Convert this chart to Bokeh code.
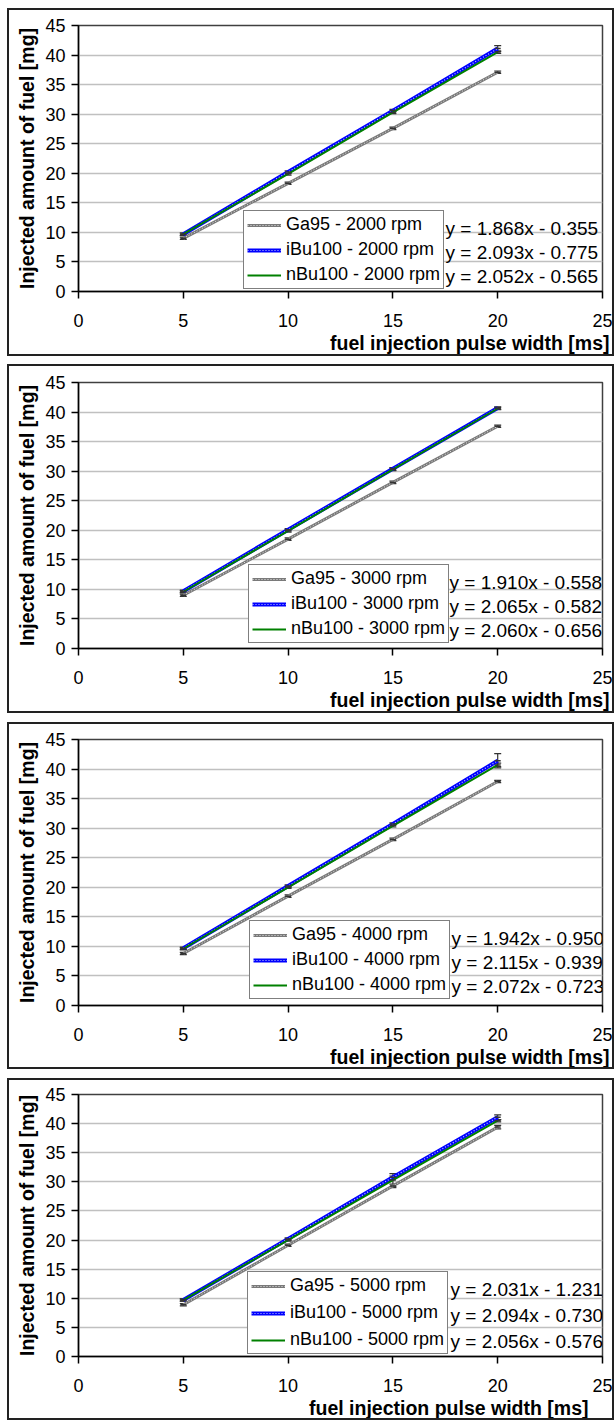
from bokeh.plotting import figure
from bokeh.layouts import column
from bokeh.models import (Legend, LegendItem, Label, Whisker, Title,
                          ColumnDataSource, FixedTicker, Range1d, TeeHead)
from bokeh.embed import file_html
from bokeh.resources import INLINE

# ---------------- data ----------------
pulse_ms = [5, 10, 15, 20]
x_ticks = [0, 5, 10, 15, 20, 25]
y_ticks = [0, 5, 10, 15, 20, 25, 30, 35, 40, 45]
rpms = ["2000", "3000", "4000", "5000"]

ga95_2000 = [9.0, 18.3, 27.6, 37.1]
ibu100_2000 = [9.7, 20.2, 30.6, 41.1]
nbu100_2000 = [9.7, 19.9, 30.3, 40.5]
ga95_2000_err = [0.2, 0.2, 0.2, 0.2]
ibu100_2000_err = [0.2, 0.2, 0.2, 0.5]
nbu100_2000_err = [0.2, 0.2, 0.2, 0.2]
eq_2000 = ["y = 1.868x - 0.355", "y = 2.093x - 0.775", "y = 2.052x - 0.565"]

ga95_3000 = [9.0, 18.5, 28.1, 37.6]
ibu100_3000 = [9.7, 20.1, 30.4, 40.7]
nbu100_3000 = [9.6, 19.9, 30.3, 40.6]
ga95_3000_err = [0.2, 0.2, 0.2, 0.2]
ibu100_3000_err = [0.2, 0.2, 0.2, 0.2]
nbu100_3000_err = [0.2, 0.2, 0.2, 0.2]
eq_3000 = ["y = 1.910x - 0.558", "y = 2.065x - 0.582", "y = 2.060x - 0.656"]

ga95_4000 = [8.8, 18.5, 28.1, 37.9]
ibu100_4000 = [9.7, 20.2, 30.7, 41.4]
nbu100_4000 = [9.6, 20.0, 30.4, 40.7]
ga95_4000_err = [0.2, 0.2, 0.2, 0.2]
ibu100_4000_err = [0.2, 0.2, 0.2, 1.2]
nbu100_4000_err = [0.2, 0.2, 0.2, 0.3]
eq_4000 = ["y = 1.942x - 0.950", "y = 2.115x - 0.939", "y = 2.072x - 0.723"]

ga95_5000 = [8.9, 19.1, 29.3, 39.4]
ibu100_5000 = [9.7, 20.2, 30.8, 41.1]
nbu100_5000 = [9.7, 20.0, 30.3, 40.5]
ga95_5000_err = [0.2, 0.2, 0.3, 0.3]
ibu100_5000_err = [0.2, 0.2, 0.2, 0.4]
nbu100_5000_err = [0.2, 0.2, 1.1, 0.2]
eq_5000 = ["y = 2.031x - 1.231", "y = 2.094x - 0.730", "y = 2.056x - 0.576"]

panels = [
    (rpms[0], ga95_2000, ga95_2000_err, ibu100_2000, ibu100_2000_err, nbu100_2000, nbu100_2000_err, eq_2000),
    (rpms[1], ga95_3000, ga95_3000_err, ibu100_3000, ibu100_3000_err, nbu100_3000, nbu100_3000_err, eq_3000),
    (rpms[2], ga95_4000, ga95_4000_err, ibu100_4000, ibu100_4000_err, nbu100_4000, nbu100_4000_err, eq_4000),
    (rpms[3], ga95_5000, ga95_5000_err, ibu100_5000, ibu100_5000_err, nbu100_5000, nbu100_5000_err, eq_5000),
]

# ---------------- layout / style ----------------
FONT = "Liberation Sans"
FIG_W = 603                   # inside the 2px outer chart box (page x 9..612)
FIG_H = [344, 345, 343, 338]
MARGIN_T = [10, 12, 13, 13]
BORDER_T = [15, 16, 15, 14]
BORDER_L, BORDER_R = 67, 10
FRAME_H = 266
# per panel: legend (x, y) rel. to plot frame, item spacing, equation x (rel. frame)
LEG = [(165, 2, 4), (170, 5, 4), (171, 6, 4), (169, 2, 6)]
EQ_X = [367, 371, 373, 372]
XT_OFFSET = [-7, -7, -7, 14]


def add_errors(p, ys, errs):
    xs = [x for x, e in zip(pulse_ms, errs) if e > 0]
    lo = [y - e for y, e in zip(ys, errs) if e > 0]
    hi = [y + e for y, e in zip(ys, errs) if e > 0]
    src = ColumnDataSource(dict(x=xs, lower=lo, upper=hi))
    w = Whisker(base="x", lower="lower", upper="upper", source=src,
                line_color="#333333", line_width=1.2,
                upper_head=TeeHead(size=7, line_color="#333333", line_width=1.2),
                lower_head=TeeHead(size=7, line_color="#333333", line_width=1.2))
    p.add_layout(w)


figs = []
for i, (rpm, ga, ga_e, ib, ib_e, nb, nb_e, eqs) in enumerate(panels):
    H = FIG_H[i]
    p = figure(width=FIG_W, height=H, x_range=Range1d(0, 25), y_range=Range1d(0, 45),
               output_backend="svg", toolbar_location=None,
               min_border_left=BORDER_L, min_border_right=BORDER_R,
               min_border_top=BORDER_T[i], min_border_bottom=H - BORDER_T[i] - FRAME_H,
               background_fill_color="white", border_fill_color="white",
               outline_line_color="#404040", outline_line_width=1.5,
               margin=(MARGIN_T[i], 0, 0, 9),
               styles={"outline": "2px solid #222222", "outline-offset": "0px"})

    for ax in (p.xaxis[0], p.yaxis[0]):
        ax.major_tick_in = 0
        ax.major_tick_out = 7
        ax.minor_tick_in = 0
        ax.minor_tick_out = 0
        ax.axis_line_color = "black"
        ax.axis_line_width = 1.5
        ax.major_tick_line_color = "black"
        ax.major_tick_line_width = 1.5
        ax.major_label_text_font = FONT
        ax.major_label_text_font_size = "18px"
        ax.major_label_text_color = "black"
    p.xaxis.ticker = FixedTicker(ticks=x_ticks)
    p.yaxis.ticker = FixedTicker(ticks=y_ticks)
    p.xaxis.major_label_standoff = 15
    p.yaxis.major_label_standoff = 6

    # axis titles
    p.add_layout(Title(text="Injected amount of fuel [mg]", align="center",
                       offset=-10, standoff=9,
                       text_font=FONT, text_font_size="19.5px", text_font_style="bold",
                       text_color="black"), "left")
    p.add_layout(Title(text="fuel injection pulse width [ms]", align="right",
                       offset=XT_OFFSET[i], standoff=0,
                       text_font=FONT, text_font_size="19.5px", text_font_style="bold",
                       text_color="black"), "below")

    p.xgrid.visible = False
    p.ygrid.grid_line_color = "#c0c0c0"
    p.ygrid.grid_line_width = 1.5

    # series
    g1 = p.line(pulse_ms, ga, line_color="#7a7a7a", line_width=3)
    g2 = p.line(pulse_ms, ga, line_color="#e8e8e8", line_width=1, line_dash="1 2")
    b1 = p.line(pulse_ms, ib, line_color="#0000ff", line_width=4)
    b2 = p.line(pulse_ms, ib, line_color="#c8d0ff", line_width=1.2, line_dash="1 2")
    n1 = p.line(pulse_ms, nb, line_color="#008000", line_width=2)
    for ys in (ga, ib, nb):
        p.scatter(pulse_ms, ys, marker="dash", size=6, line_color="#333333", line_width=1.5)
    add_errors(p, ga, ga_e)
    add_errors(p, ib, ib_e)
    add_errors(p, nb, nb_e)

    lx, ly, lsp = LEG[i]
    legend = Legend(items=[
        LegendItem(label="Ga95 - %s rpm" % rpm, renderers=[g1, g2]),
        LegendItem(label="iBu100 - %s rpm" % rpm, renderers=[b1, b2]),
        LegendItem(label="nBu100 - %s rpm" % rpm, renderers=[n1]),
    ], location=(lx, ly), orientation="vertical",
        border_line_color="black", border_line_width=1.2,
        background_fill_color="white", background_fill_alpha=1.0,
        padding=3, spacing=lsp, margin=0, label_standoff=5,
        glyph_width=34, glyph_height=20, label_height=20,
        label_text_font=FONT, label_text_font_size="18px", label_text_color="black")
    p.add_layout(legend)

    # trendline equations
    row_h = 20 + lsp
    for k, eq in enumerate(eqs):
        yy = ly + 3 + row_h * (2 - k) + 10
        p.add_layout(Label(x=EQ_X[i], y=yy, x_units="screen", y_units="screen", text=eq,
                           text_font=FONT, text_font_size="19px", text_color="black",
                           text_align="left", text_baseline="middle"))
    figs.append(p)

layout = column(*figs, spacing=0)
open("out.html", "w").write(file_html(layout, INLINE))
